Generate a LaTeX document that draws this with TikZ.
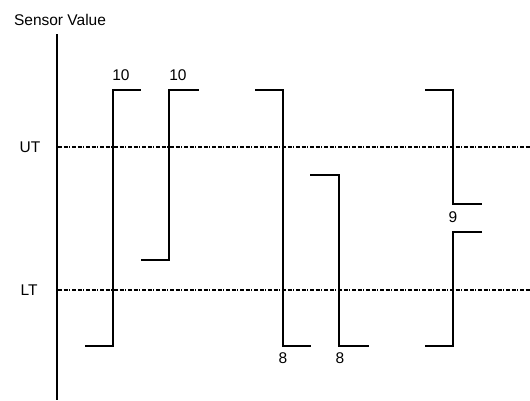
\documentclass[tikz,border=0pt]{standalone}
\usepackage{fontspec}
\setmainfont{Liberation Sans}
\begin{document}
\begin{tikzpicture}[x=1pt,y=-1pt,
  lbl/.style={inner sep=0pt,font=\fontsize{15.5}{18}\selectfont},
  pulse/.style={line width=1.6pt,line cap=butt,line join=miter},
  thr/.style={line width=1.4pt,dash pattern=on 4pt off 1.6pt on 4pt off 1.6pt on 1.2pt off 1.6pt}]
\useasboundingbox (0,0) rectangle (530,400);
% axis
\draw[pulse] (57,34) -- (57,400);
\node[lbl] (sv) at (60,20) {Sensor Value};
% thresholds
\node[lbl] (ut) at (30,147) {UT};
\node[lbl] (lt) at (29,290) {LT};
\draw[thr] (58,147) -- (530,147);
\draw[thr] (58,290) -- (530,290);
% pulses
\draw[pulse] (85,346) -| (113,90) -- (141,90);
\node[lbl] (a) at (121,75) {10};
\draw[pulse] (141,260) -| (169,90) -- (199,90);
\node[lbl] (b) at (178,75) {10};
\draw[pulse] (255,90) -| (283,346) -- (311,346);
\node[lbl] (c) at (283,358) {8};
\draw[pulse] (310,175) -| (339,346) -- (369,346);
\node[lbl] (d) at (340,358) {8};
\draw[pulse] (425,90) -| (453,204) -- (482,204);
\node[lbl] (e) at (453,217) {9};
\draw[pulse] (482,232) -| (453,346) -- (425,346);
\end{tikzpicture}
\end{document}
